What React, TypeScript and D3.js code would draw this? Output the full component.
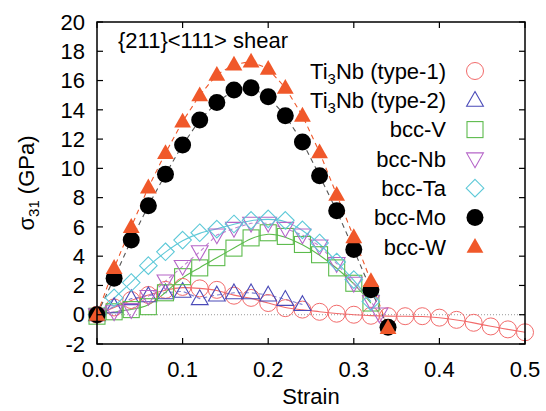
import React from 'react';
import * as d3 from 'd3';

// strain grid used by most series
const strainA = [0, 0.02, 0.04, 0.06, 0.08, 0.1, 0.12, 0.14, 0.16, 0.18, 0.2, 0.22, 0.24, 0.26, 0.28, 0.3, 0.32, 0.34];
const strainType1 = [0, 0.02, 0.04, 0.06, 0.08, 0.1, 0.12, 0.14, 0.16, 0.18, 0.2, 0.22, 0.24, 0.26, 0.28, 0.3, 0.32, 0.34, 0.36, 0.38, 0.4, 0.42, 0.44, 0.46, 0.48, 0.5];
const strainType2 = [0, 0.02, 0.04, 0.06, 0.08, 0.1, 0.12, 0.14, 0.16, 0.18, 0.2, 0.22, 0.24];
const strainV = [0, 0.02, 0.04, 0.06, 0.08, 0.1, 0.12, 0.14, 0.16, 0.18, 0.2, 0.22, 0.24, 0.26, 0.28, 0.3, 0.32];
const strainNb = [0, 0.02, 0.04, 0.06, 0.08, 0.1, 0.12, 0.14, 0.16, 0.18, 0.2, 0.22, 0.24, 0.26, 0.28, 0.3, 0.32, 0.33];
const strainTa = [0, 0.02, 0.04, 0.06, 0.08, 0.1, 0.12, 0.14, 0.16, 0.18, 0.2, 0.22, 0.24, 0.26, 0.28, 0.3, 0.32];

const type1 = [0, 0.5, 1.0, 1.35, 1.7, 1.9, 1.8, 1.7, 1.3, 1.15, 0.8, 0.45, 0.35, 0.2, 0.07, 0, -0.07, -0.1, -0.1, -0.1, -0.2, -0.35, -0.55, -0.8, -1.0, -1.2];
const type2 = [0, 0.55, 1.1, 1.3, 1.5, 1.6, 1.1, 1.35, 1.5, 1.5, 1.35, 1.05, 0.7];
const bccV = [-0.1, 0.2, 0.35, 0.55, 1.5, 2.6, 3.2, 3.9, 4.55, 5.25, 5.6, 5.35, 4.8, 4.1, 3.2, 2.15, 0.8];
const bccNb = [0, 0.2, 0.35, 1.25, 2.3, 3.3, 4.3, 5.45, 5.9, 6.25, 6.25, 5.9, 5.45, 4.7, 3.5, 2.15, 0.9, 0.05];
const bccTa = [0, 1.15, 2.2, 3.35, 4.3, 5.1, 5.6, 5.85, 6.2, 6.45, 6.55, 6.45, 5.8, 4.9, 3.6, 2.4, 0.9];
const bccMo = [0, 2.5, 5.1, 7.45, 9.6, 11.6, 13.3, 14.5, 15.35, 15.5, 14.9, 13.6, 11.8, 9.5, 7.1, 4.45, 1.7, -0.85];
const bccW = [0, 3.2, 6.0, 8.7, 11.05, 13.2, 15.0, 16.4, 17.1, 17.3, 16.8, 15.5, 13.6, 11.1, 8.2, 5.3, 2.3, -0.9];

const xTicks = [0, 0.1, 0.2, 0.3, 0.4, 0.5];
const yTicks = [-2, 0, 2, 4, 6, 8, 10, 12, 14, 16, 18, 20];

const W = 546, H = 411;
const m = { left: 97, right: 21, top: 22, bottom: 67 };
const font = '"Liberation Sans", Arial, sans-serif';
const fs = 22;

type Shape = 'circle' | 'up' | 'square' | 'down' | 'diamond' | 'dot' | 'fillUp';

function marker(shape: Shape, cx: number, cy: number, color: string, key: string | number) {
  const r = 8;
  if (shape === 'circle')
    return <circle key={key} cx={cx} cy={cy} r={8.5} fill="none" stroke={color} strokeWidth={1} />;
  if (shape === 'dot')
    return <circle key={key} cx={cx} cy={cy} r={8.5} fill={color} />;
  if (shape === 'square')
    return <rect key={key} x={cx - 8} y={cy - 8} width={16} height={16} fill="none" stroke={color} strokeWidth={1.1} />;
  let pts: number[][] = [];
  if (shape === 'up' || shape === 'fillUp') pts = [[cx, cy - r * 1.1], [cx + r * 1.05, cy + r * 0.75], [cx - r * 1.05, cy + r * 0.75]];
  if (shape === 'down') pts = [[cx, cy + r * 1.1], [cx + r * 1.05, cy - r * 0.75], [cx - r * 1.05, cy - r * 0.75]];
  if (shape === 'diamond') pts = [[cx, cy - r * 1.1], [cx + r * 1.1, cy], [cx, cy + r * 1.1], [cx - r * 1.1, cy]];
  const d = 'M' + pts.map(p => p.join(',')).join('L') + 'Z';
  return shape === 'fillUp'
    ? <path key={key} d={d} fill={color} />
    : <path key={key} d={d} fill="none" stroke={color} strokeWidth={1.1} />;
}

const series = [
  { name: 'type1', xs: strainType1, ys: type1, color: '#f26b6b', shape: 'circle' as Shape, dash: null, curve: d3.curveBasis, lineColor: '#f26b6b' },
  { name: 'type2', xs: strainType2, ys: type2, color: '#4a4ab8', shape: 'up' as Shape, dash: '4,3', curve: d3.curveLinear, lineColor: '#8080d0' },
  { name: 'V', xs: strainV, ys: bccV, color: '#5cbb4c', shape: 'square' as Shape, dash: null, curve: d3.curveBasis, lineColor: '#5cbb4c' },
  { name: 'Nb', xs: strainNb, ys: bccNb, color: '#b565c8', shape: 'down' as Shape, dash: '4,3', curve: d3.curveLinear, lineColor: '#c080d0' },
  { name: 'Ta', xs: strainTa, ys: bccTa, color: '#5ec9d8', shape: 'diamond' as Shape, dash: null, curve: d3.curveBasis, lineColor: '#5ec9d8' },
  { name: 'Mo', xs: strainA, ys: bccMo, color: '#000000', shape: 'dot' as Shape, dash: '5,4', curve: d3.curveLinear, lineColor: '#555555' },
  { name: 'W', xs: strainA, ys: bccW, color: '#f0582a', shape: 'fillUp' as Shape, dash: '5,4', curve: d3.curveLinear, lineColor: '#f0582a' },
];

const legend: { label: React.ReactNode; shape: Shape; color: string }[] = [
  { label: <>Ti<tspan baselineShift="-30%" fontSize="15">3</tspan>Nb (type-1)</>, shape: 'circle', color: '#f26b6b' },
  { label: <>Ti<tspan baselineShift="-30%" fontSize="15">3</tspan>Nb (type-2)</>, shape: 'up', color: '#4a4ab8' },
  { label: 'bcc-V', shape: 'square', color: '#5cbb4c' },
  { label: 'bcc-Nb', shape: 'down', color: '#b565c8' },
  { label: 'bcc-Ta', shape: 'diamond', color: '#5ec9d8' },
  { label: 'bcc-Mo', shape: 'dot', color: '#000000' },
  { label: 'bcc-W', shape: 'fillUp', color: '#f0582a' },
];

export default function App() {
  const x = d3.scaleLinear().domain([0, 0.5]).range([m.left, W - m.right]);
  const y = d3.scaleLinear().domain([-2, 20]).range([H - m.bottom, m.top]);
  const x0 = m.left, x1 = W - m.right, y0 = H - m.bottom, y1 = m.top;

  return (
    <svg width={W} height={H} style={{ position: 'absolute', left: 0, top: 0, background: '#fff' }} fontFamily={font}>
      {/* zero line */}
      <line x1={x0} x2={x1} y1={y(0)} y2={y(0)} stroke="#999" strokeWidth={1} strokeDasharray="1,2" />

      {series.map(s => {
        const line = d3.line<number>().x((_, i) => x(s.xs[i])).y(v => y(v)).curve(s.curve);
        return <path key={s.name + 'l'} d={line(s.ys) || ''} fill="none" stroke={s.lineColor}
          strokeWidth={1.1} strokeDasharray={s.dash || undefined} />;
      })}
      {series.map(s => (
        <g key={s.name + 'm'}>{s.ys.map((v, i) => marker(s.shape, x(s.xs[i]), y(v), s.color, i))}</g>
      ))}

      {/* frame and ticks */}
      <rect x={x0} y={y1} width={x1 - x0} height={y0 - y1} fill="none" stroke="#000" strokeWidth={1.5} />
      {xTicks.map(t => (
        <g key={'x' + t}>
          <line x1={x(t)} x2={x(t)} y1={y0} y2={y0 - 6} stroke="#000" strokeWidth={1.2} />
          <line x1={x(t)} x2={x(t)} y1={y1} y2={y1 + 6} stroke="#000" strokeWidth={1.2} />
          <text x={x(t)} y={y0 + 33} textAnchor="middle" fontSize={fs}>{t.toFixed(1)}</text>
        </g>
      ))}
      {yTicks.map(t => (
        <g key={'y' + t}>
          <line x1={x0} x2={x0 + 6} y1={y(t)} y2={y(t)} stroke="#000" strokeWidth={1.2} />
          <line x1={x1} x2={x1 - 6} y1={y(t)} y2={y(t)} stroke="#000" strokeWidth={1.2} />
          <text x={x0 - 12} y={y(t)} dy="0.35em" textAnchor="end" fontSize={fs}>{t}</text>
        </g>
      ))}

      <text x={(x0 + x1) / 2} y={H - 7} textAnchor="middle" fontSize={fs}>Strain</text>
      <text transform={`translate(34,${(y0 + y1) / 2}) rotate(-90)`} textAnchor="middle" fontSize={fs}>
        σ<tspan baselineShift="-30%" fontSize="15">31</tspan> (GPa)
      </text>
      <text x={118} y={48} fontSize={fs}>{'{211}<111> shear'}</text>

      {legend.map((l, i) => (
        <g key={'lg' + i}>
          <text x={446} y={71 + i * 29.3} dy="0.35em" textAnchor="end" fontSize={fs}>{l.label}</text>
          {marker(l.shape, 475, 71 + i * 29.3, l.color, 'm')}
        </g>
      ))}
    </svg>
  );
}
